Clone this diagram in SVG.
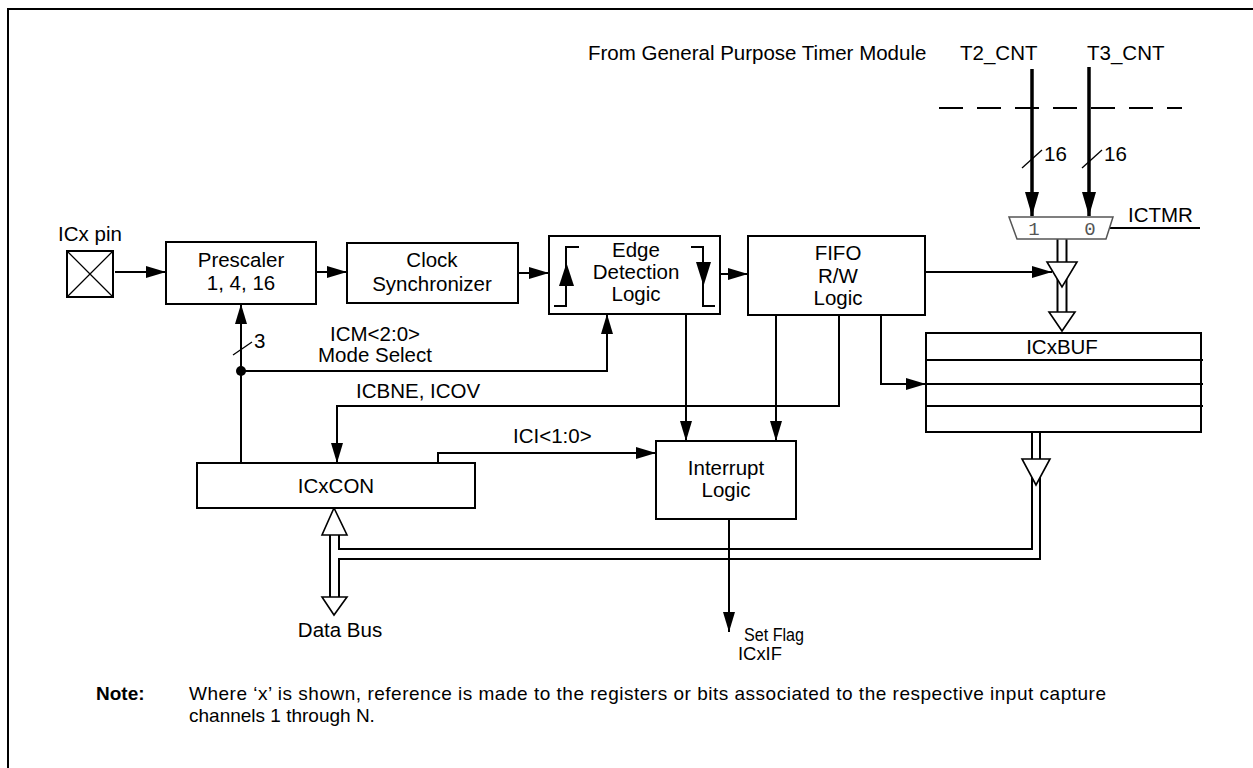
<svg xmlns="http://www.w3.org/2000/svg" width="1253" height="768" viewBox="0 0 1253 768">
<style>
text{font-family:"Liberation Sans",Arial,sans-serif;font-size:20.5px;fill:#000}
.c{text-anchor:middle}
.box{fill:#fff;stroke:#000;stroke-width:2}
.ln{fill:none;stroke:#000;stroke-width:2}
.thk{fill:none;stroke:#000;stroke-width:3.5}
.hol{fill:#fff;stroke:#000;stroke-width:1.6}
.mono{font-family:"Liberation Mono","Courier New",monospace;font-size:19px;fill:#555}
.note{font-size:19px}
.sm{font-size:17.5px}
</style>
<defs>
<marker id="ah" markerWidth="20" markerHeight="12" refX="20" refY="6" orient="auto" markerUnits="userSpaceOnUse"><path d="M0,0 L20,6 L0,12 z" fill="#000"/></marker>
<marker id="ahT" markerWidth="24" markerHeight="14" refX="24" refY="7" orient="auto" markerUnits="userSpaceOnUse"><path d="M0,0 L24,7 L0,14 z" fill="#000"/></marker>
</defs>
<rect width="1253" height="768" fill="#fff"/>
<path d="M1262,9 H8 V775" class="ln"/>

<g id="timer-labels">
<text x="588" y="60">From General Purpose Timer Module</text>
<text x="960" y="60">T2_CNT</text>
<text x="1087" y="60">T3_CNT</text>
</g>

<g id="connectors">
<line x1="939" y1="108" x2="1182" y2="108" stroke="#000" stroke-width="2" stroke-dasharray="24 14"/>
<line x1="1032" y1="69" x2="1032" y2="216" class="thk" marker-end="url(#ahT)"/>
<line x1="1089" y1="67" x2="1089" y2="216" class="thk" marker-end="url(#ahT)"/>
<line x1="1022" y1="168" x2="1042" y2="150" stroke="#000" stroke-width="1.3"/>
<line x1="1082" y1="168" x2="1102" y2="150" stroke="#000" stroke-width="1.3"/>
<text x="1044" y="161">16</text>
<text x="1104" y="161">16</text>
<line x1="1106" y1="228" x2="1200" y2="228" class="ln"/>
<text x="1128" y="222">ICTMR</text>
<line x1="1057.5" y1="239" x2="1057.5" y2="312" class="ln"/>
<line x1="1066.5" y1="239" x2="1066.5" y2="312" class="ln"/>
<polygon points="1047,262 1077,262 1062,287" class="hol"/>
<polygon points="1049,312 1075,312 1062,331" class="hol"/>
<line x1="115" y1="272" x2="166" y2="272" class="ln" marker-end="url(#ah)"/>
<line x1="316" y1="272" x2="347" y2="272" class="ln" marker-end="url(#ah)"/>
<line x1="518" y1="273" x2="549" y2="273" class="ln" marker-end="url(#ah)"/>
<line x1="720" y1="274" x2="748" y2="274" class="ln" marker-end="url(#ah)"/>
<line x1="925" y1="272" x2="1052" y2="272" class="ln" marker-end="url(#ah)"/>
<line x1="241" y1="463" x2="241" y2="304" class="ln" marker-end="url(#ah)"/>
<circle cx="241" cy="371" r="5" fill="#000"/>
<polyline points="241,371 607,371 607,314" class="ln" marker-end="url(#ah)"/>
<line x1="233" y1="355" x2="252" y2="342" stroke="#000" stroke-width="1.3"/>
<text x="254" y="348">3</text>
<text x="375" y="341" class="c" font-size="19.5">ICM&lt;2:0&gt;</text>
<text x="375" y="362" class="c" font-size="19.5">Mode Select</text>
<line x1="686" y1="314" x2="686" y2="441" class="ln" marker-end="url(#ah)"/>
<line x1="776" y1="315" x2="776" y2="441" class="ln" marker-end="url(#ah)"/>
<polyline points="839,315 839,406 337,406 337,463" class="ln" marker-end="url(#ah)"/>
<text x="356" y="398">ICBNE, ICOV</text>
<polyline points="881,315 881,384 926,384" class="ln" marker-end="url(#ah)"/>
<polyline points="438,463 438,453 656,453" class="ln" marker-end="url(#ah)"/>
<text x="513" y="443">ICI&lt;1:0&gt;</text>
<line x1="729" y1="519" x2="729" y2="632" class="ln" marker-end="url(#ah)"/>
<text x="744" y="641" class="sm" textLength="60" lengthAdjust="spacingAndGlyphs">Set Flag</text>
<text x="738" y="660" class="sm" textLength="44" lengthAdjust="spacingAndGlyphs">ICxIF</text>
<line x1="1032" y1="432" x2="1032" y2="549" class="ln"/>
<line x1="1040" y1="432" x2="1040" y2="559" class="ln"/>
<polygon points="1022,459 1050,459 1036,485" class="hol"/>
<path d="M339,535 V549 H1033" class="ln"/>
<path d="M339,597 V559 H1041" class="ln"/>
<line x1="330" y1="535" x2="330" y2="597" class="ln"/>
<polygon points="334,508 347,535 322,535" class="hol"/>
<polygon points="322,597 347,597 334,615" class="hol"/>
<text x="340" y="637" class="c">Data Bus</text>
</g>

<g id="icx-pin">
<text x="90" y="241" class="c">ICx pin</text>
<rect x="67" y="251" width="46" height="46" class="box"/>
<path d="M67,251 L113,297 M113,251 L67,297" stroke="#000" stroke-width="1.3"/>
</g>

<g id="prescaler">
<rect x="166" y="242" width="150" height="62" class="box"/>
<text x="241" y="267" class="c">Prescaler</text>
<text x="241" y="290" class="c">1, 4, 16</text>
</g>

<g id="clock-sync">
<rect x="347" y="243" width="171" height="60" class="box"/>
<text x="432" y="267" class="c">Clock</text>
<text x="432" y="291" class="c">Synchronizer</text>
</g>

<g id="edge-detection">
<rect x="549" y="236" width="171" height="78" class="box"/>
<text x="636" y="257" class="c">Edge</text>
<text x="636" y="279" class="c">Detection</text>
<text x="636" y="301" class="c">Logic</text>
<polyline points="579,247 566,247 566,306 554,306" class="ln"/>
<polygon points="559,286 574,286 566.5,263" fill="#000"/>
<polyline points="691,247 703,247 703,306 715,306" class="ln"/>
<polygon points="696,262 711,262 703.5,286" fill="#000"/>
</g>

<g id="fifo">
<rect x="748" y="236" width="177" height="79" class="box"/>
<text x="838" y="260" class="c">FIFO</text>
<text x="838" y="283" class="c">R/W</text>
<text x="838" y="305" class="c">Logic</text>
</g>

<g id="mux">
<polygon points="1009,217 1113,217 1106,239 1017,239" fill="#fff" stroke="#555" stroke-width="1.5"/>
<text x="1034" y="235" class="mono c">1</text>
<text x="1090" y="235" class="mono c">0</text>
</g>

<g id="icxbuf">
<rect x="926" y="333" width="275" height="99" class="box"/>
<path d="M926,360 H1203 M926,384 H1203 M926,406 H1203" class="ln"/>
<text x="1062" y="354" class="c">ICxBUF</text>
</g>

<g id="icxcon">
<rect x="197" y="463" width="278" height="45" class="box"/>
<text x="336" y="493" class="c">ICxCON</text>
</g>

<g id="interrupt">
<rect x="656" y="441" width="140" height="78" class="box"/>
<text x="726" y="475" class="c">Interrupt</text>
<text x="726" y="497" class="c">Logic</text>
</g>

<g id="note">
<text x="96" y="700" class="note" font-weight="bold">Note:</text>
<text x="189" y="700" class="note" textLength="917" lengthAdjust="spacing">Where ‘x’ is shown, reference is made to the registers or bits associated to the respective input capture</text>
<text x="189" y="722" class="note">channels 1 through N.</text>
</g>
</svg>
